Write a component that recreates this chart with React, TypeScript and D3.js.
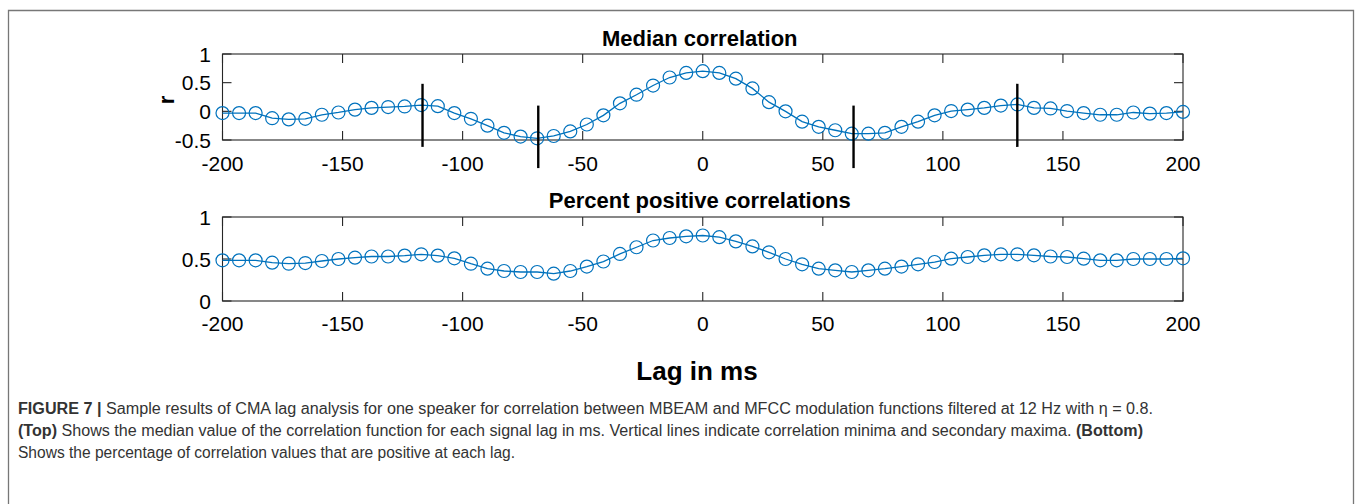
import React from "react";
import * as d3 from "d3";

// ---- data ----
const lags = [
  -200, -193.1, -186.21, -179.31, -172.41, -165.52, -158.62, -151.72, -144.83, -137.93,
  -131.03, -124.14, -117.24, -110.34, -103.45, -96.55, -89.66, -82.76, -75.86, -68.97,
  -62.07, -55.17, -48.28, -41.38, -34.48, -27.59, -20.69, -13.79, -6.9, 0,
  6.9, 13.79, 20.69, 27.59, 34.48, 41.38, 48.28, 55.17, 62.07, 68.97,
  75.86, 82.76, 89.66, 96.55, 103.45, 110.34, 117.24, 124.14, 131.03, 137.93,
  144.83, 151.72, 158.62, 165.52, 172.41, 179.31, 186.21, 193.1, 200,
];

const medianCorr = [
  -0.03, -0.03, -0.03, -0.12, -0.14, -0.13, -0.06, -0.02, 0.03, 0.06,
  0.075, 0.085, 0.11, 0.09, -0.03, -0.13, -0.25, -0.375, -0.44, -0.47,
  -0.43, -0.35, -0.23, -0.07, 0.14, 0.29, 0.45, 0.59, 0.67, 0.7,
  0.67, 0.57, 0.4, 0.16, 0.0, -0.18, -0.27, -0.33, -0.39, -0.39,
  -0.375, -0.27, -0.18, -0.07, 0.005, 0.03, 0.06, 0.1, 0.12, 0.06,
  0.05, 0.005, -0.03, -0.06, -0.06, -0.02, -0.04, -0.03, -0.01,
];

const percentPos = [
  0.484, 0.484, 0.484, 0.456, 0.444, 0.452, 0.476, 0.5, 0.516, 0.53,
  0.53, 0.54, 0.556, 0.54, 0.508, 0.444, 0.385, 0.357, 0.345, 0.345,
  0.325, 0.357, 0.41, 0.47, 0.56, 0.64, 0.72, 0.75, 0.77, 0.78,
  0.76, 0.71, 0.65, 0.58, 0.5, 0.437, 0.385, 0.365, 0.345, 0.365,
  0.385, 0.41, 0.437, 0.464, 0.504, 0.524, 0.544, 0.556, 0.556, 0.544,
  0.53, 0.524, 0.504, 0.484, 0.484, 0.5, 0.5, 0.5, 0.508,
];

const markerLags = [-116.7, -68.5, 62.8, 131];
const markerTop = [0.48, 0.1, 0.1, 0.48];
const markerBottom = [-0.62, -0.99, -0.99, -0.62];

const xTicks = [-200, -150, -100, -50, 0, 50, 100, 150, 200];
const yTicksTop = [-0.5, 0, 0.5, 1];
const yTicksBottom = [0, 0.5, 1];

const titleTop = "Median correlation";
const titleBottom = "Percent positive correlations";
const xLabel = "Lag in ms";
const yLabelTop = "r";

// ---- layout ----
const W = 1360;
const H = 504;
const X0 = 222.5;
const X1 = 1183;
const BLUE = "#0072BD";
const AX = "#262626";
const CHART_FONT = "'Liberation Sans', Arial, Helvetica, sans-serif";
const CAP_FONT = "'Liberation Sans Narrow', 'Liberation Sans', Arial, sans-serif";

const x = d3.scaleLinear().domain([-200, 200]).range([X0, X1]);

type PanelProps = {
  values: number[];
  yDomain: [number, number];
  yTicks: number[];
  top: number;
  bottom: number;
  title: string;
  titleY: number;
  tickLabelY: number;
  showMarkers?: boolean;
};

function Panel({ values, yDomain, yTicks, top, bottom, title, titleY, tickLabelY, showMarkers }: PanelProps) {
  const y = d3.scaleLinear().domain(yDomain).range([bottom, top]);
  const line = d3
    .line<number>()
    .x((_, i) => x(lags[i]))
    .y((d) => y(d));
  const TL = 9;
  return (
    <g>
      <rect x={X0} y={top} width={X1 - X0} height={bottom - top} fill="white" stroke={AX} strokeWidth={1.1} />
      {xTicks.map((t) => (
        <g key={"xt" + t}>
          <line x1={x(t)} x2={x(t)} y1={bottom} y2={bottom - TL} stroke={AX} strokeWidth={1.1} />
          <line x1={x(t)} x2={x(t)} y1={top} y2={top + TL} stroke={AX} strokeWidth={1.1} />
          <text
            x={x(t)}
            y={tickLabelY}
            textAnchor="middle"
            fontFamily={CHART_FONT}
            fontSize={21}
            fill="#000"
          >
            {t}
          </text>
        </g>
      ))}
      {yTicks.map((t) => (
        <g key={"yt" + t}>
          <line x1={X0} x2={X0 + TL} y1={y(t)} y2={y(t)} stroke={AX} strokeWidth={1.1} />
          <line x1={X1} x2={X1 - TL} y1={y(t)} y2={y(t)} stroke={AX} strokeWidth={1.1} />
          <text
            x={211}
            y={y(t)}
            dy="0.36em"
            textAnchor="end"
            fontFamily={CHART_FONT}
            fontSize={21}
            fill="#000"
          >
            {t}
          </text>
        </g>
      ))}
      <path d={line(values) || ""} fill="none" stroke={BLUE} strokeWidth={1.3} />
      {values.map((v, i) => (
        <circle key={i} cx={x(lags[i])} cy={y(v)} r={6.5} fill="none" stroke={BLUE} strokeWidth={1.2} />
      ))}
      {showMarkers &&
        markerLags.map((m, i) => (
          <line
            key={"m" + i}
            x1={x(m)}
            x2={x(m)}
            y1={y(markerTop[i])}
            y2={y(markerBottom[i])}
            stroke="#000"
            strokeWidth={2.4}
          />
        ))}
      <text
        x={(X0 + X1) / 2 - 3}
        y={titleY}
        textAnchor="middle"
        fontFamily={CHART_FONT}
        fontWeight="bold"
        fontSize={22}
        fill="#000"
      >
        {title}
      </text>
    </g>
  );
}

export default function App() {
  return (
    <svg
      width={W}
      height={H}
      viewBox={`0 0 ${W} ${H}`}
      style={{ position: "absolute", left: 0, top: 0, background: "white" }}
    >
      <rect x={0} y={0} width={W} height={H} fill="white" />
      <path d={`M8.5,${H + 2} V10.5 H1353.5 V${H + 2}`} fill="none" stroke="#777" strokeWidth={1.3} />

      <Panel
        values={medianCorr}
        yDomain={[-0.5, 1]}
        yTicks={yTicksTop}
        top={54}
        bottom={140}
        title={titleTop}
        titleY={46}
        tickLabelY={170.5}
        showMarkers
      />
      <Panel
        values={percentPos}
        yDomain={[0, 1]}
        yTicks={yTicksBottom}
        top={217}
        bottom={301}
        title={titleBottom}
        titleY={208}
        tickLabelY={331}
      />

      <text
        transform="translate(174,100) rotate(-90)"
        textAnchor="middle"
        fontFamily={CHART_FONT}
        fontWeight="bold"
        fontSize={22}
        fill="#000"
      >
        {yLabelTop}
      </text>
      <text
        x={697}
        y={380}
        textAnchor="middle"
        fontFamily={CHART_FONT}
        fontWeight="bold"
        fontSize={26}
        fill="#000"
      >
        {xLabel}
      </text>

      <g fontFamily={CAP_FONT} fontSize={16} fill="#333">
        <text x={18} y={414} textLength={1135} lengthAdjust="spacingAndGlyphs">
          <tspan fontWeight="bold">FIGURE 7 |</tspan>
          <tspan> Sample results of CMA lag analysis for one speaker for correlation between MBEAM and MFCC modulation functions filtered at 12 Hz with η = 0.8.</tspan>
        </text>
        <text x={18} y={436} textLength={1125} lengthAdjust="spacingAndGlyphs">
          <tspan fontWeight="bold">(Top)</tspan>
          <tspan> Shows the median value of the correlation function for each signal lag in ms. Vertical lines indicate correlation minima and secondary maxima. </tspan>
          <tspan fontWeight="bold">(Bottom)</tspan>
        </text>
        <text x={18} y={458} textLength={497} lengthAdjust="spacingAndGlyphs">
          Shows the percentage of correlation values that are positive at each lag.
        </text>
      </g>
    </svg>
  );
}
